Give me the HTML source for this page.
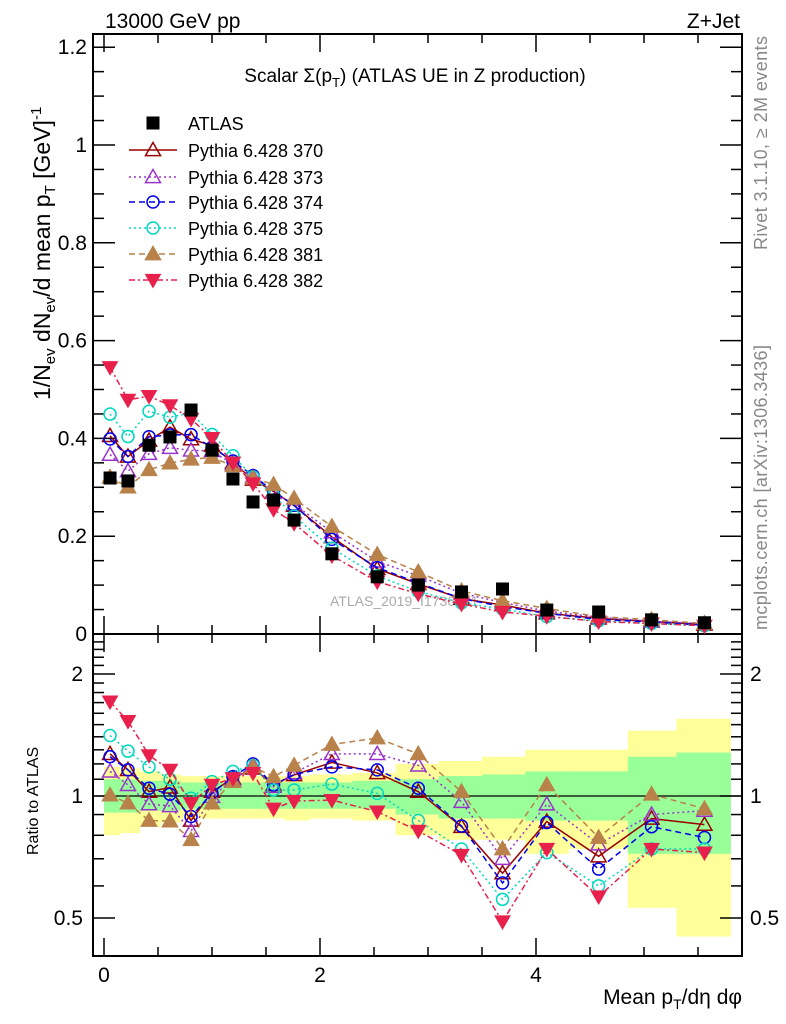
<!DOCTYPE html>
<html><head><meta charset="utf-8"><style>
body{margin:0;background:#fff;}
svg{display:block;font-family:"Liberation Sans",sans-serif;}
</style></head><body>
<svg id="chart" width="786" height="1024" viewBox="0 0 786 1024" xmlns="http://www.w3.org/2000/svg">
<text x="105" y="28" font-size="21">13000 GeV pp</text>
<text x="740" y="28" font-size="21" text-anchor="end">Z+Jet</text>
<text x="415" y="82" font-size="19" text-anchor="middle">Scalar Σ(p<tspan font-size="13" dy="5">T</tspan><tspan dy="-5">) (ATLAS UE in Z production)</tspan></text>
<text transform="translate(767,250) rotate(-90)" font-size="18" fill="#888" textLength="214">Rivet 3.1.10, ≥ 2M events</text>
<text transform="translate(767,630) rotate(-90)" font-size="18" fill="#888" textLength="285">mcplots.cern.ch [arXiv:1306.3436]</text>
<text x="330" y="606" font-size="14" fill="#aaa">ATLAS_2019_I1736531</text>
<text transform="translate(50,400) rotate(-90)" font-size="23">1/N<tspan font-size="15" dy="5">ev</tspan><tspan dy="-5"> dN</tspan><tspan font-size="15" dy="5">ev</tspan><tspan dy="-5">/d mean p</tspan><tspan font-size="15" dy="5">T</tspan><tspan dy="-5"> [GeV]</tspan><tspan font-size="15" dy="-9">-1</tspan></text>
<text transform="translate(38,855) rotate(-90)" font-size="16">Ratio to ATLAS</text>
<text x="742" y="1004" font-size="21" text-anchor="end">Mean p<tspan font-size="14" dy="5">T</tspan><tspan dy="-5">/dη dφ</tspan></text>
<g id="g"></g>
</svg>
<script>
const xPts=[0.056,0.222,0.417,0.611,0.806,1.0,1.194,1.38,1.57,1.76,2.11,2.53,2.91,3.31,3.69,4.10,4.58,5.07,5.56];
const binEdges=[0,0.15,0.33,0.52,0.71,0.9,1.1,1.29,1.48,1.67,1.9,2.3,2.7,3.1,3.5,3.9,4.3,4.85,5.3,5.8];
const atlas=[0.319,0.313,0.386,0.403,0.458,0.376,0.317,0.27,0.274,0.233,0.164,0.117,0.10,0.086,0.092,0.049,0.045,0.029,0.023];
const r370=[1.27,1.16,1.025,1.05,0.87,1.025,1.105,1.17,1.065,1.127,1.21,1.14,1.025,0.84,0.645,0.865,0.71,0.88,0.85];
const r373=[1.15,1.065,0.955,0.945,0.82,0.996,1.095,1.19,1.054,1.14,1.27,1.27,1.19,0.968,0.70,0.954,0.76,0.90,0.92];
const r374=[1.25,1.16,1.045,1.01,0.89,1.015,1.116,1.20,1.065,1.13,1.18,1.16,1.045,0.843,0.61,0.86,0.66,0.84,0.79];
const r375=[1.41,1.29,1.18,1.10,0.987,1.085,1.15,1.19,1.035,1.035,1.07,1.015,0.87,0.74,0.556,0.725,0.60,0.74,0.74];
const r381=[1.005,0.96,0.87,0.867,0.78,0.96,1.085,1.18,1.116,1.19,1.34,1.39,1.27,1.025,0.74,1.065,0.79,1.01,0.93];
const r382=[1.71,1.53,1.26,1.16,0.96,1.065,1.105,1.14,0.93,0.972,0.977,0.915,0.82,0.715,0.49,0.74,0.565,0.74,0.725];
const yelHi=[1.18,1.17,1.15,1.13,1.12,1.12,1.12,1.12,1.12,1.12,1.13,1.14,1.2,1.22,1.25,1.3,1.3,1.45,1.55];
const yelLo=[0.8,0.81,0.84,0.86,0.88,0.88,0.88,0.88,0.88,0.87,0.88,0.87,0.8,0.78,0.78,0.72,0.74,0.53,0.45];
const grnHi=[1.1,1.1,1.09,1.09,1.08,1.08,1.08,1.08,1.08,1.08,1.08,1.09,1.1,1.12,1.13,1.15,1.15,1.25,1.28];
const grnLo=[0.91,0.91,0.92,0.92,0.93,0.93,0.93,0.93,0.93,0.93,0.93,0.93,0.9,0.88,0.88,0.87,0.87,0.72,0.72];
const xTicks=[0,2,4];
const yTicks=[0,0.2,0.4,0.6,0.8,1,1.2];
const yTickLabels=["0","0.2","0.4","0.6","0.8","1","1.2"];
const rTicks=[0.5,1,2];
const rTickLabels=["0.5","1","2"];

const L=93,R=742,T=34,MB=634,RB=956;
const X=v=>104+v*108;
const Y=v=>634-v*489;
const RY=v=>Math.max(T+600,Math.min(RB,796-122*Math.log2(v)));
const NS="http://www.w3.org/2000/svg";
const g=document.getElementById('g');
function mk(tag,attrs,parent){const e=document.createElementNS(NS,tag);for(const k in attrs)e.setAttribute(k,attrs[k]);(parent||g).appendChild(e);return e;}

for(let i=0;i<xPts.length;i++){
  const x0=X(binEdges[i]),x1=X(binEdges[i+1]);
  const y=mk('rect',{x:x0,y:RY(yelHi[i]),width:x1-x0+0.5,height:RY(yelLo[i])-RY(yelHi[i]),fill:'#ffff99'});
  
  
  const gr=mk('rect',{x:x0,y:RY(grnHi[i]),width:x1-x0+0.5,height:RY(grnLo[i])-RY(grnHi[i]),fill:'#99ff99'});
  
  
}
mk('line',{x1:L,x2:R,y1:RY(1),y2:RY(1),stroke:'#000','stroke-width':1.3});

const f1=mk('rect',{x:L,y:T,width:R-L,height:MB-T,fill:'none',stroke:'#000','stroke-width':2});


const f2=mk('rect',{x:L,y:MB,width:R-L,height:RB-MB,fill:'none',stroke:'#000','stroke-width':2});



for(let v=0;v<=6.01;v+=0.5){
  const px=X(v); if(px>R) break;
  const big=Math.abs(v-Math.round(v/2)*2)<1e-6;
  const len=big?18:9;
  mk('line',{x1:px,x2:px,y1:MB,y2:MB-len,stroke:'#000','stroke-width':1.5});
  mk('line',{x1:px,x2:px,y1:T,y2:T+len,stroke:'#000','stroke-width':1.5});
  mk('line',{x1:px,x2:px,y1:RB,y2:RB-len,stroke:'#000','stroke-width':1.5});
  mk('line',{x1:px,x2:px,y1:MB,y2:MB+len,stroke:'#000','stroke-width':1.5});
}
xTicks.forEach(v=>{const t=mk('text',{x:X(v),y:982,'font-size':21,'text-anchor':'middle'});t.textContent=v;

});
for(let v=0;v<=1.2201;v+=0.05){
  const py=Y(v); if(py<T) break;
  const big=Math.abs(v*5-Math.round(v*5))<1e-6;
  const len=big?22:11;
  mk('line',{x1:L,x2:L+len,y1:py,y2:py,stroke:'#000','stroke-width':1.5});
  mk('line',{x1:R,x2:R-len,y1:py,y2:py,stroke:'#000','stroke-width':1.5});
}
yTicks.forEach((v,i)=>{const t=mk('text',{x:L-6,y:Y(v)+7,'font-size':21,'text-anchor':'end'});t.textContent=yTickLabels[i];

});
[0.5,0.6,0.7,0.8,0.9,1,1.1,1.2,1.3,1.4,1.5,1.6,1.7,1.8,1.9,2,2.1,2.2,2.3,2.4].forEach(v=>{
  const py=796-122*Math.log2(v); if(py<MB) return;
  const big=[0.5,1,2].includes(v);
  const len=big?22:11;
  mk('line',{x1:L,x2:L+len,y1:py,y2:py,stroke:'#000','stroke-width':1.5});
  mk('line',{x1:R,x2:R-len,y1:py,y2:py,stroke:'#000','stroke-width':1.5});
});
rTicks.forEach((v,i)=>{
  const t=mk('text',{x:L-10,y:RY(v)+7,'font-size':21,'text-anchor':'end'});t.textContent=rTickLabels[i];
  
  
  const t2=mk('text',{x:R+8,y:RY(v)+7,'font-size':21});t2.textContent=rTickLabels[i];
  
  
});

function marker(kind,color,x,y,parent){
  const s=7.5;
  if(kind==='sq') return mk('rect',{x:x-6.5,y:y-6.5,width:13,height:13,fill:'#000'},parent);
  if(kind==='tri'||kind==='trif') return mk('polygon',{points:`${x},${y-s} ${x-s},${y+s*0.75} ${x+s},${y+s*0.75}`,fill:kind==='trif'?color:'none',stroke:color,'stroke-width':1.5},parent);
  if(kind==='dtri') return mk('polygon',{points:`${x},${y+s} ${x-s},${y-s*0.75} ${x+s},${y-s*0.75}`,fill:color,stroke:color,'stroke-width':1},parent);
  if(kind==='circ') return mk('circle',{cx:x,cy:y,r:6,fill:'none',stroke:color,'stroke-width':1.5},parent);
}
const series=[
 {name:'370',r:r370,color:'#990000',dash:'',kind:'tri'},
 {name:'373',r:r373,color:'#9933cc',dash:'2,3',kind:'tri'},
 {name:'374',r:r374,color:'#0000ee',dash:'6,4',kind:'circ'},
 {name:'375',r:r375,color:'#00d8c0',dash:'2,3',kind:'circ'},
 {name:'381',r:r381,color:'#b8824a',dash:'6,4',kind:'trif'},
 {name:'382',r:r382,color:'#e8204c',dash:'6,3,2,3',kind:'dtri'}
];
series.forEach(s=>{
  const gm=mk('g',{});
  
  
  const main=xPts.map((x,i)=>[X(x),Y(atlas[i]*s.r[i])]);
  const rat=xPts.map((x,i)=>[X(x),RY(s.r[i])]);
  [main,rat].forEach(pts=>{
    mk('polyline',{points:pts.map(p=>p.join(',')).join(' '),fill:'none',stroke:s.color,'stroke-width':1.5,'stroke-dasharray':s.dash},gm);
    pts.forEach(p=>marker(s.kind,s.color,p[0],p[1],gm));
  });
});
const ga=mk('g',{});


xPts.forEach((x,i)=>{const m=marker('sq','#000',X(x),Y(atlas[i]),ga);

});

const legY=[123,150,177,202,228,254,280];
const lg=mk('g',{});


marker('sq','#000',153,legY[0],lg);
let t=mk('text',{x:188,y:legY[0]+7,'font-size':18},lg);t.textContent='ATLAS';
series.forEach((s,i)=>{
  const y=legY[i+1];
  mk('line',{x1:129,x2:177,y1:y,y2:y,stroke:s.color,'stroke-width':1.5,'stroke-dasharray':s.dash},lg);
  marker(s.kind,s.color,153,y,lg);
  const tt=mk('text',{x:188,y:y+7,'font-size':18},lg);tt.textContent='Pythia 6.428 '+s.name;
  
  
});
</script>
</body></html>
